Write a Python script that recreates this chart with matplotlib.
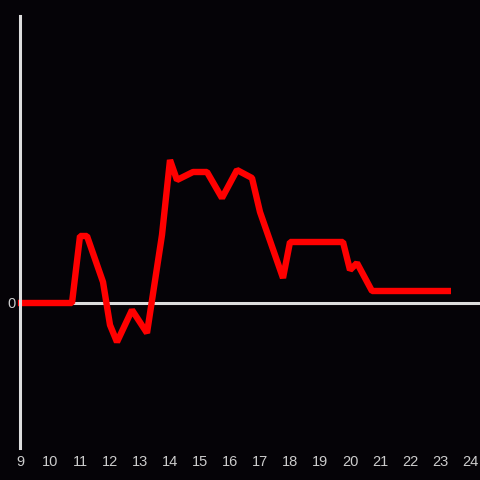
import matplotlib
matplotlib.use("Agg")
import matplotlib.pyplot as plt

hours = [8.93, 10.733, 11.0, 11.233, 11.767, 12.0, 12.233, 12.733, 13.233, 13.733,
         14.0, 14.233, 14.767, 15.233, 15.733, 16.233, 16.733, 17.0, 17.767, 18.0,
         19.767, 20.0, 20.233, 20.733, 23.367]
values = [0, 0, 67, 67, 21, -22, -39, -7, -30, 68,
          143, 123, 131, 131, 105, 133, 125, 91, 25, 61,
          61, 33, 40, 12, 12]
xticks = list(range(9, 25))

bg = "#050307"
axis_col = "#dddddd"

fig = plt.figure(figsize=(4.8, 4.8), dpi=100, facecolor=bg)
ax = fig.add_axes([20/480, 32/480, 460/480, 432/480], facecolor=bg)

ax.axhline(0, color=axis_col, lw=2.2, zorder=1)
ax.plot(hours, values, color="#ff0000", lw=4.6, solid_joinstyle="bevel",
        solid_capstyle="butt", zorder=3, clip_on=False)

ax.set_xlim(9, 9 + 460/30)
ax.set_ylim(-145, 287)

for s in ["top", "right", "bottom"]:
    ax.spines[s].set_visible(False)
ax.spines["left"].set_color(axis_col)
ax.spines["left"].set_linewidth(2.2)
ax.spines["left"].set_zorder(5)

ax.set_xticks(xticks)
ax.set_xticklabels([str(t) for t in xticks])
ax.set_yticks([0])
ax.set_yticklabels(["0"])
ax.tick_params(axis="both", length=0, colors="#cccccc", labelsize=10.5)
ax.tick_params(axis="x", pad=5)
ax.tick_params(axis="y", pad=3)
for lbl in ax.get_xticklabels() + ax.get_yticklabels():
    lbl.set_fontfamily("Liberation Sans")

fig.savefig("out.png", dpi=100, facecolor=bg)
